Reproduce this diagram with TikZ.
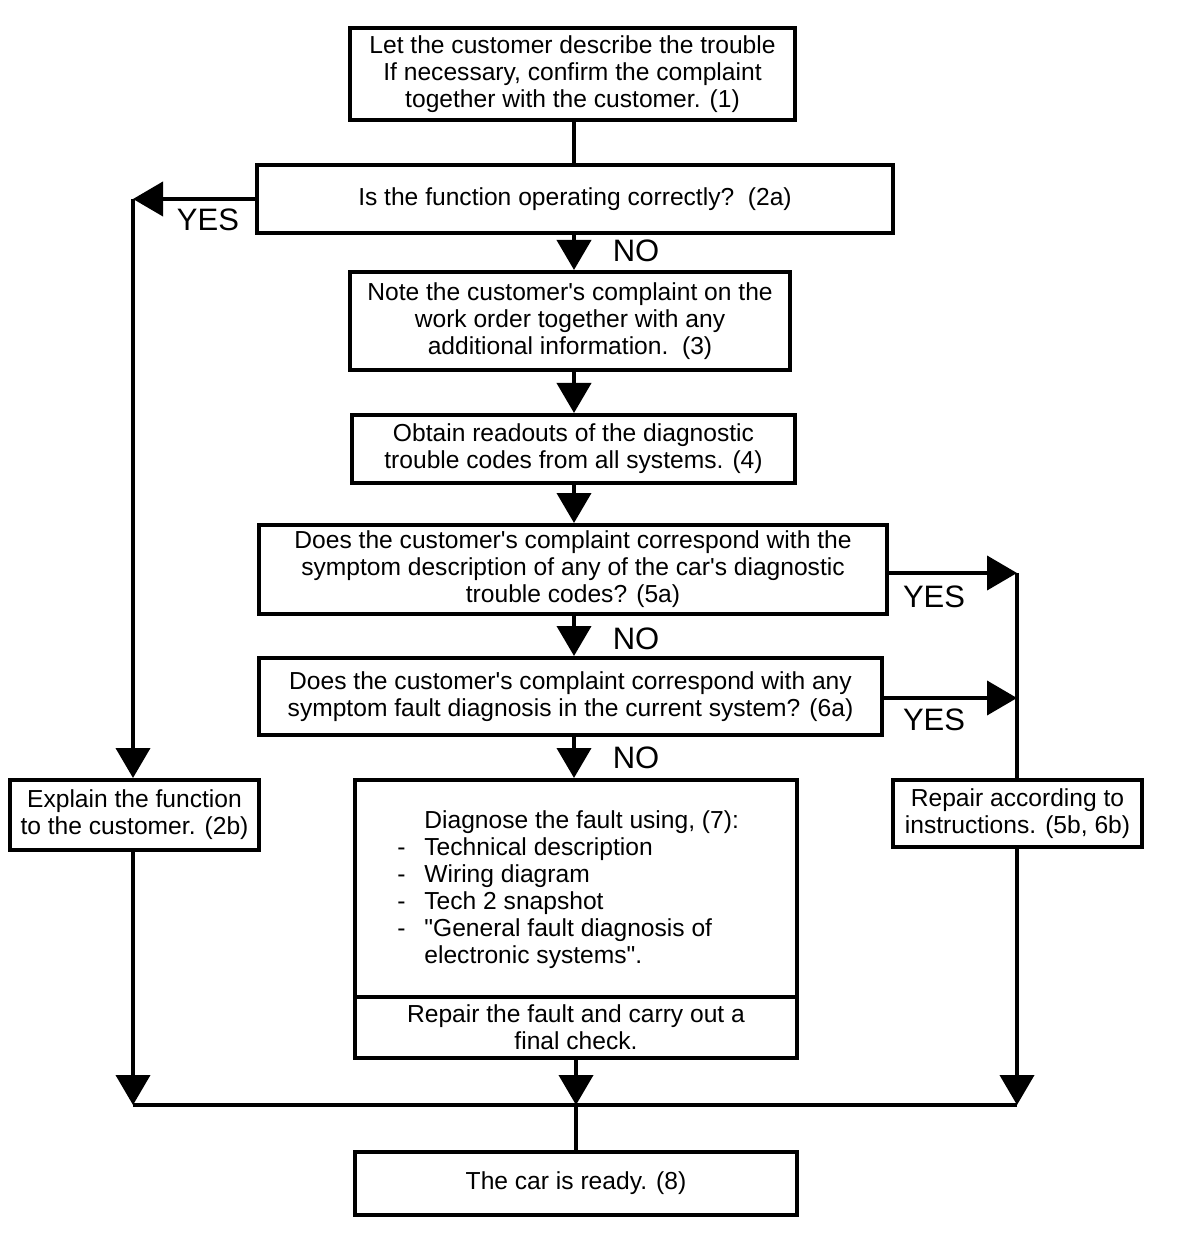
\documentclass[tikz,border=0pt]{standalone}
\usepackage{fontspec}
\setmainfont{Liberation Sans}[Ligatures=TeXOff]
\usetikzlibrary{arrows.meta}
\begin{document}
\begin{tikzpicture}[x=0.5pt,y=-0.5pt,
  box/.style={draw,line width=2pt,align=center,inner sep=0pt,font=\fontsize{12.3}{13.5}\selectfont},
  lab/.style={font=\fontsize{15.5}{16}\selectfont,inner sep=0pt},
  conn/.style={line width=2pt},
  arr/.style={line width=2pt,-{Triangle[length=15pt,width=17pt]}}]
\useasboundingbox (0,0) rectangle (1200,1234);
% boxes
\node[box,minimum width=222.5pt,minimum height=46pt] (b1) at (572.5,74)
  {Let the customer describe the trouble\\If necessary, confirm the complaint\\together with the customer. (1)};
\node[box,minimum width=318pt,minimum height=34pt] (b2a) at (575,199)
  {Is the function operating correctly?\ \ (2a)};
\node[box,minimum width=220pt,minimum height=49pt] (b3) at (570,321)
  {Note the customer's complaint on the\\work order together with any\\additional information.\ \ (3)};
\node[box,minimum width=221.5pt,minimum height=34pt] (b4) at (573.5,449)
  {Obtain readouts of the diagnostic\\trouble codes from all systems. (4)};
\node[box,minimum width=314pt,minimum height=44.5pt] (b5a) at (573,569.5)
  {Does the customer's complaint correspond with the\\symptom description of any of the car's diagnostic\\trouble codes? (5a)};
\node[box,minimum width=311.5pt,minimum height=38.5pt] (b6a) at (570.5,696.5)
  {Does the customer's complaint correspond with any\\symptom fault diagnosis in the current system? (6a)};
\node[box,minimum width=221pt,minimum height=108.5pt] (b7a) at (576,888.5) {};
\node[box,minimum width=221pt,minimum height=30.5pt] (b7b) at (576,1027.5)
  {Repair the fault and carry out a\\final check.};
\node[anchor=west,inner sep=0pt,align=left,font=\fontsize{12.3}{13.5}\selectfont] (t7) at (397,889.5)
  {\hspace*{13.5pt}Diagnose the fault using, (7):\\
   \makebox[13.5pt][l]{-}Technical description\\
   \makebox[13.5pt][l]{-}Wiring diagram\\
   \makebox[13.5pt][l]{-}Tech 2 snapshot\\
   \makebox[13.5pt][l]{-}"General fault diagnosis of\\
   \hspace*{13.5pt}electronic systems".};
\node[box,minimum width=124.5pt,minimum height=35pt] (b2b) at (134.5,815)
  {Explain the function\\to the customer. (2b)};
\node[box,minimum width=124.5pt,minimum height=33.5pt] (b5b) at (1017.5,813.5)
  {Repair according to\\instructions. (5b, 6b)};
\node[box,minimum width=221pt,minimum height=31.5pt] (b8) at (576,1183.5)
  {The car is ready. (8)};
% coordinates
\coordinate (yl) at (133,199);
\coordinate (yr1) at (1017,573);
\coordinate (yr2) at (1017,698);
\coordinate (jl) at (133,1105);
\coordinate (jc) at (576,1105);
\coordinate (jr) at (1017,1105);
% connectors
\draw[conn] (b1.south -| 574,0) -- (b2a.north -| 574,0);
\draw[arr] (b2a.west) -- (yl);
\draw[arr] (yl) -- (yl |- b2b.north);
\draw[arr] (b2a.south -| 574,0) -- (b3.north -| 574,0);
\draw[arr] (b3.south -| 574,0) -- (b4.north -| 574,0);
\draw[arr] (b4.south -| 574,0) -- (b5a.north -| 574,0);
\draw[arr] (b5a.south -| 574,0) -- (b6a.north -| 574,0);
\draw[arr] (b6a.south -| 574,0) -- (b7a.north -| 574,0);
\draw[arr] (b5a.east |- yr1) -- (yr1);
\draw[arr] (b6a.east |- yr2) -- (yr2);
\draw[conn] (yr1) -- (yr1 |- b5b.north);
\draw[arr] (yr1 |- b5b.south) -- (jr);
\draw[arr] (yl |- b2b.south) -- (jl);
\draw[arr] (b7b.south) -- (jc);
\draw[conn] (jl) -- (jr);
\draw[conn] (jc) -- (b8.north);
% labels
\node[lab] (l1) at (208,220) {YES};
\node[lab] (l2) at (636,251) {NO};
\node[lab] (l3) at (934,597) {YES};
\node[lab] (l4) at (636,639) {NO};
\node[lab] (l5) at (934,720) {YES};
\node[lab] (l6) at (636,758) {NO};
\end{tikzpicture}
\end{document}
